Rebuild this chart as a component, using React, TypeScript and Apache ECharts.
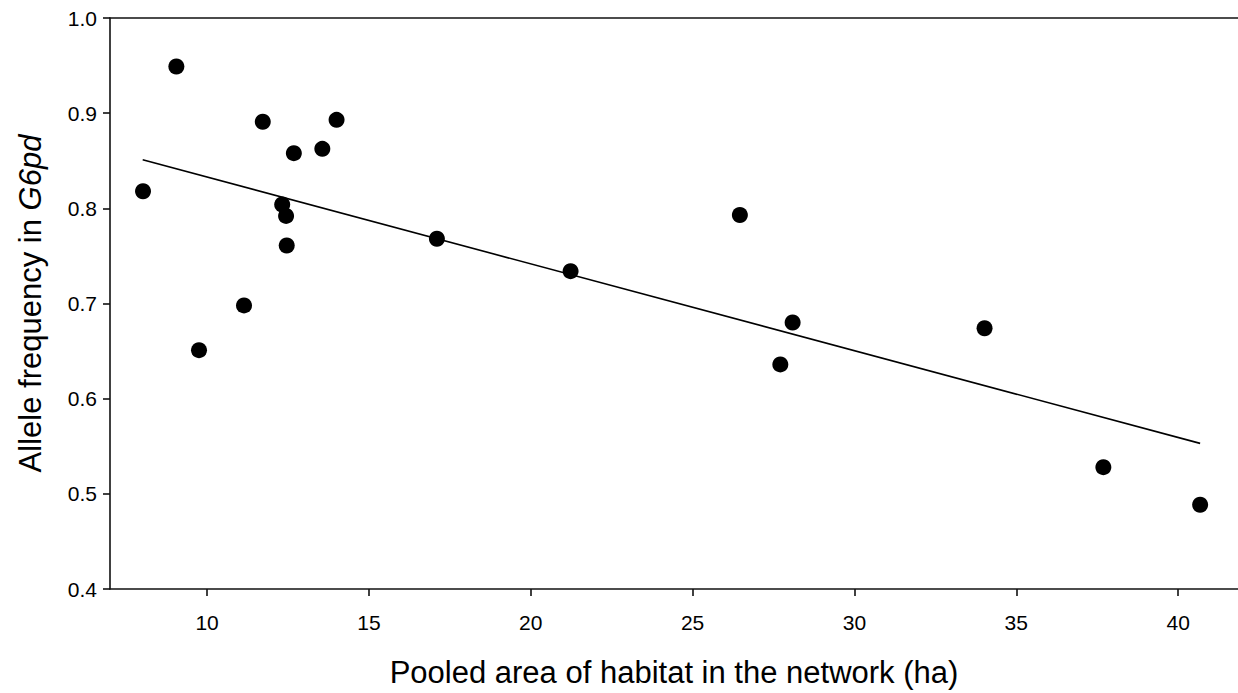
import React, { useEffect, useRef } from "react";
import * as echarts from "echarts";

const pooledArea = [8.02, 9.05, 9.75, 11.14, 11.72, 12.32, 12.44, 12.46, 12.68, 13.56, 14.0, 17.1, 21.23, 26.46, 27.71, 28.09, 34.02, 37.69, 40.68];
const alleleFreq = [0.818, 0.949, 0.651, 0.698, 0.891, 0.804, 0.792, 0.761, 0.858, 0.8625, 0.893, 0.768, 0.734, 0.793, 0.636, 0.68, 0.674, 0.528, 0.4885];
const fitX = [8.01, 40.68];
const fitY = [0.851, 0.553];
const xTicks = [10, 15, 20, 25, 30, 35, 40];

const FONT = "'Liberation Sans', Arial, sans-serif";

export default function App() {
  const ref = useRef<HTMLDivElement>(null);
  useEffect(() => {
    if (!ref.current) return;
    const chart = echarts.init(ref.current, undefined, { renderer: "svg" });
    const axisLine = { show: true, lineStyle: { color: "#111", width: 1.6 } };
    chart.setOption({
      animation: false,
      backgroundColor: "#fff",
      textStyle: { fontFamily: FONT },
      grid: { left: 110, top: 18, right: 0, bottom: 99, containLabel: false },
      xAxis: [
        {
          type: "value",
          min: 7,
          max: 41.85,
          position: "bottom",
          axisLine,
          splitLine: { show: false },
          axisTick: { show: true, length: 7, inside: false, lineStyle: { color: "#111", width: 1.6 }, customValues: xTicks },
          axisLabel: { color: "#000", fontSize: 21, fontFamily: FONT, margin: 23, customValues: xTicks },
          name: "Pooled area of habitat in the network (ha)",
          nameLocation: "middle",
          nameGap: 68,
          nameTextStyle: { color: "#000", fontSize: 31, fontFamily: FONT },
        },
        {
          type: "value",
          min: 7,
          max: 41.85,
          position: "top",
          axisLine,
          splitLine: { show: false },
          axisTick: { show: false },
          axisLabel: { show: false },
        },
      ],
      yAxis: {
        type: "value",
        min: 0.4,
        max: 1.0,
        interval: 0.1,
        axisLine,
        splitLine: { show: false },
        axisTick: { show: true, length: 7, lineStyle: { color: "#111", width: 1.6 } },
        axisLabel: { color: "#000", fontSize: 21, fontFamily: FONT, margin: 13, formatter: (v: number) => v.toFixed(1) },
        name: "Allele frequency in {i|G6pd}",
        nameLocation: "middle",
        nameGap: 64,
        nameTextStyle: {
          color: "#000",
          fontSize: 31,
          fontFamily: FONT,
          rich: { i: { fontStyle: "italic", fontSize: 31, fontFamily: FONT, color: "#000" } },
        },
      },
      series: [
        {
          type: "line",
          data: fitX.map((x, i) => [x, fitY[i]]),
          showSymbol: false,
          symbol: "none",
          lineStyle: { color: "#000", width: 1.6 },
          z: 2,
        },
        {
          type: "scatter",
          data: pooledArea.map((x, i) => [x, alleleFreq[i]]),
          symbol: "circle",
          symbolSize: 16,
          itemStyle: { color: "#000", opacity: 1 },
          z: 3,
        },
      ],
    });
    return () => chart.dispose();
  }, []);
  return <div ref={ref} style={{ position: "fixed", left: 0, top: 0, width: 1238, height: 693, background: "#fff" }} />;
}
